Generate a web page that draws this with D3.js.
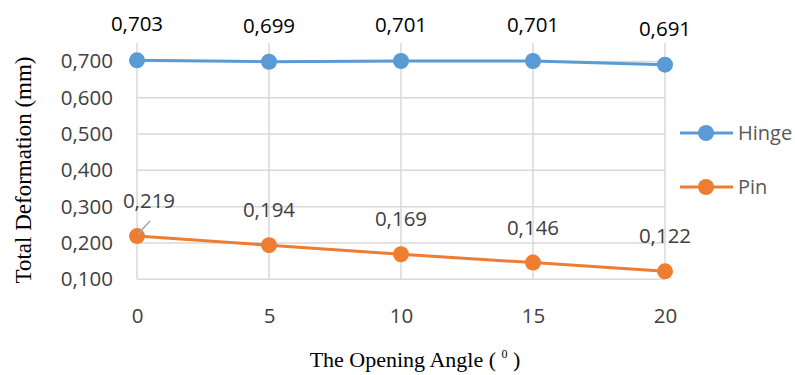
<!DOCTYPE html>
<html><head><meta charset="utf-8">
<script src="https://cdn.jsdelivr.net/npm/d3@7"></script>
<style>body{margin:0;background:#fff}svg{display:block}</style>
</head><body>
<svg id="c" width="795" height="375"></svg>
<script>
const angles = [0, 5, 10, 15, 20];
const hinge = [0.703, 0.699, 0.701, 0.701, 0.691];
const pin = [0.219, 0.194, 0.169, 0.146, 0.122];
const yTicks = [0.1, 0.2, 0.3, 0.4, 0.5, 0.6, 0.7];
const seriesNames = ["Hinge", "Pin"];
const colors = ["#5B9BD5", "#ED7D31"];

(function () {
const svg = d3.select("#c");
const pLeft = 137, pRight = 665, pTop = 43, pBottom = 279.3;
const x = d3.scaleLinear().domain([0, 20]).range([pLeft, pRight]);
const y = d3.scaleLinear().domain([0.1, 0.6]).range([pBottom, 97.7]);
const yTop = y.invert(pTop);
const fmt = v => d3.format(".3f")(v).replace(".", ",");
const font = "'Open Sans', sans-serif";
const serif = "'Liberation Serif', 'Times New Roman', serif";
const fs = 20.5;

// gridlines
const g = svg.append("g");
g.selectAll(".hg").data(yTicks).join("line")
  .attr("x1", pLeft).attr("x2", pRight)
  .attr("y1", d => y(d)).attr("y2", d => y(d))
  .attr("stroke", "#d9d9d9").attr("stroke-width", 1.5);
g.selectAll(".vg").data(angles).join("line")
  .attr("x1", d => x(d)).attr("x2", d => x(d))
  .attr("y1", y(yTop)).attr("y2", pBottom)
  .attr("stroke", "#d9d9d9").attr("stroke-width", 1.5);

// axes (labels only)
const yAxis = d3.axisLeft(y).tickValues(yTicks).tickFormat(fmt).tickSize(0).tickPadding(24);
const ya = svg.append("g").attr("transform", `translate(${pLeft},0)`).call(yAxis);
ya.select(".domain").remove();
ya.selectAll("text").attr("font-family", font).attr("font-size", fs).attr("fill", "#404040");

const xAxis = d3.axisBottom(x).tickValues(angles).tickFormat(d3.format("d")).tickSize(0).tickPadding(29);
const xa = svg.append("g").attr("transform", `translate(0,${pBottom})`).call(xAxis);
xa.select(".domain").remove();
xa.selectAll("text").attr("font-family", font).attr("font-size", fs).attr("fill", "#404040");

// series
const data = [hinge, pin];
const line = d3.line().x((d, i) => x(angles[i])).y(d => y(d));
data.forEach((s, k) => {
  svg.append("path").datum(s).attr("d", line)
    .attr("fill", "none").attr("stroke", colors[k]).attr("stroke-width", 3);
  svg.selectAll(".m" + k).data(s).join("circle")
    .attr("cx", (d, i) => x(angles[i])).attr("cy", d => y(d)).attr("r", 8)
    .attr("fill", colors[k]);
});

// data labels
svg.selectAll(".hl").data(hinge).join("text")
  .attr("x", (d, i) => x(angles[i])).attr("y", d => y(d) - 29)
  .attr("text-anchor", "middle").attr("font-family", font).attr("font-size", fs)
  .attr("fill", "#000").text(fmt);

// leader line for first pin label
svg.append("line").attr("x1", x(0) + 1).attr("y1", y(pin[0]) - 2)
  .attr("x2", x(0) + 13).attr("y2", y(pin[0]) - 15)
  .attr("stroke", "#a6a6a6").attr("stroke-width", 1.5);
svg.selectAll(".pl").data(pin).join("text")
  .attr("x", (d, i) => x(angles[i]) + (i === 0 ? 12 : 0))
  .attr("y", d => y(d) - 28)
  .attr("text-anchor", "middle").attr("font-family", font).attr("font-size", fs)
  .attr("fill", "#404040").text(fmt);

// legend
const leg = svg.append("g");
seriesNames.forEach((n, k) => {
  const ly = 133 + k * 54;
  leg.append("line").attr("x1", 680).attr("x2", 733).attr("y1", ly).attr("y2", ly)
    .attr("stroke", colors[k]).attr("stroke-width", 3);
  leg.append("circle").attr("cx", 706).attr("cy", ly).attr("r", 8).attr("fill", colors[k]);
  leg.append("text").attr("x", 738).attr("y", ly + 7).attr("font-family", font)
    .attr("font-size", 20).attr("fill", "#595959").text(n);
});

// axis titles
svg.append("text").attr("transform", "translate(31,170) rotate(-90)")
  .attr("text-anchor", "middle").attr("font-family", serif)
  .attr("font-size", 23).attr("fill", "#000").text("Total Deformation (mm)");
const xt = svg.append("text").attr("x", 415).attr("y", 367)
  .attr("text-anchor", "middle").attr("font-family", serif)
  .attr("font-size", 22).attr("fill", "#000");
xt.append("tspan").text("The Opening Angle ( ");
xt.append("tspan").attr("font-size", 12).attr("dy", -9).text("0");
xt.append("tspan").attr("dy", 9).text(" )");
})();
</script>
</body></html>
